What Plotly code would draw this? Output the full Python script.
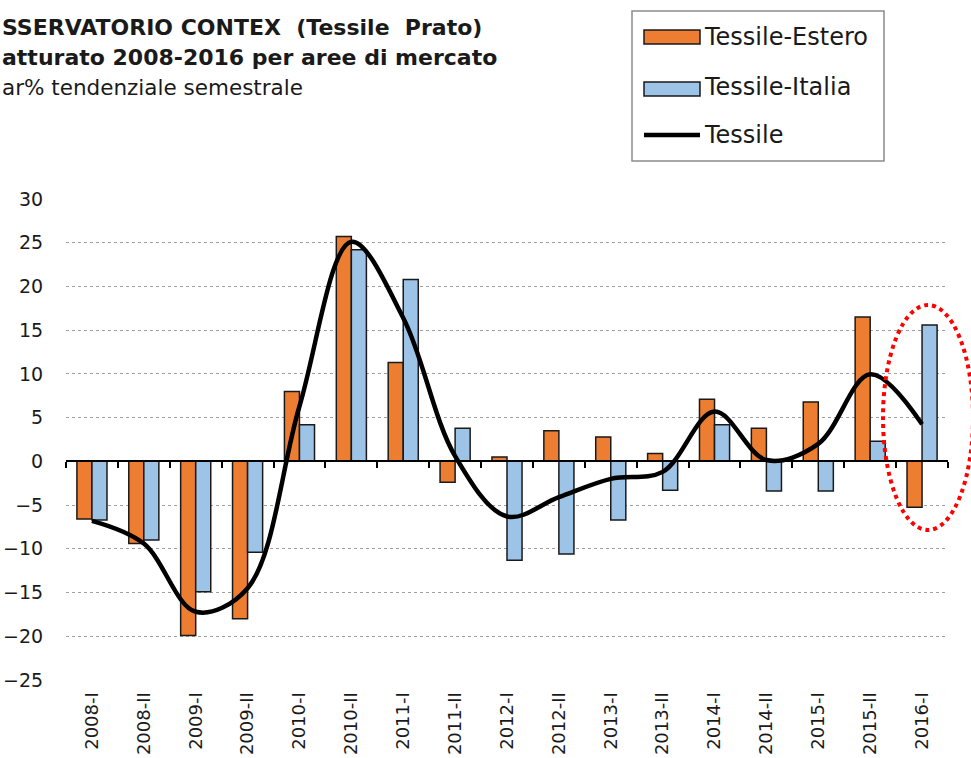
import plotly.graph_objects as go

categories = ["2008-I", "2008-II", "2009-I", "2009-II", "2010-I", "2010-II", "2011-I",
              "2011-II", "2012-I", "2012-II", "2013-I", "2013-II", "2014-I", "2014-II",
              "2015-I", "2015-II", "2016-I"]
estero = [-6.6, -9.4, -19.9, -18.0, 8.0, 25.7, 11.3, -2.4, 0.5, 3.5, 2.8, 0.9, 7.1, 3.8, 6.8, 16.5, -5.25]
italia = [-6.7, -9.0, -14.9, -10.4, 4.2, 24.2, 20.8, 3.8, -11.3, -10.6, -6.7, -3.3, 4.2, -3.4, -3.4, 2.3, 15.6]
tessile = [-6.8, -9.4, -17.2, -14.5, 6.3, 25.1, 16.4, 0.6, -6.3, -4.1, -2.0, -1.2, 5.7, 0.15, 2.0, 9.95, 4.25]

title_lines = ["SSERVATORIO CONTEX \u00a0(Tessile \u00a0Prato)",
               "atturato 2008-2016 per aree di mercato",
               "ar% tendenziale semestrale"]
legend_names = ["Tessile-Estero", "Tessile-Italia", "Tessile"]

ORANGE = "#ED7D31"
BLUE = "#9DC3E6"
FONT = "DejaVu Sans"
W, H = 971, 758
ML, MR, MT, MB = 66, 23, 199, 78
PW, PH = W - ML - MR, H - MT - MB


def px_x(p):
    return (p - ML) / PW


def px_y(p):
    return (H - MB - p) / PH


fig = go.Figure()
fig.add_trace(go.Bar(x=categories, y=estero, name=legend_names[0],
                     marker=dict(color=ORANGE, line=dict(color="#1a1a1a", width=1.5))))
fig.add_trace(go.Bar(x=categories, y=italia, name=legend_names[1],
                     marker=dict(color=BLUE, line=dict(color="#1a1a1a", width=1.5))))
fig.add_trace(go.Scatter(x=categories, y=tessile, name=legend_names[2], mode="lines",
                         xaxis="x2",
                         line=dict(color="black", width=4.5, shape="spline", smoothing=1.0)))

zero_pos = 25 / 55

fig.update_layout(
    width=W, height=H,
    margin=dict(l=ML, r=MR, t=MT, b=MB, autoexpand=False),
    paper_bgcolor="white", plot_bgcolor="white",
    showlegend=False,
    barmode="group", bargap=0.42, bargroupgap=0,
    font=dict(family=FONT, color="#1a1a1a"),
    xaxis=dict(type="category", range=[-0.5, 16.5], showline=False, showgrid=False,
               zeroline=False, tickangle=-90, tickfont=dict(size=18),
               ticks="outside", ticklen=4, tickcolor="rgba(0,0,0,0)", automargin=False),
    xaxis2=dict(type="category", range=[-0.5, 16.5], overlaying="x", anchor="free",
                position=zero_pos, side="bottom", showline=True, linecolor="black",
                linewidth=1.5, ticks="outside", tickson="boundaries", ticklen=6,
                tickwidth=1.5, tickcolor="black", showticklabels=False, showgrid=False,
                zeroline=False),
    yaxis=dict(range=[-25, 30], dtick=5, tick0=0, showgrid=True, gridcolor="#a0a0a0",
               griddash="dot", gridwidth=1, zeroline=False, showline=False,
               ticks="outside", ticklen=18, tickcolor="rgba(0,0,0,0)",
               tickfont=dict(size=19), automargin=False),
)

# Title block
title_specs = [(title_lines[0], 27, 22, True), (title_lines[1], 57, 22, True),
               (title_lines[2], 87, 21.5, False)]
for txt, yc, size, bold in title_specs:
    fig.add_annotation(text=f"<b>{txt}</b>" if bold else txt, xref="paper", yref="paper",
                       x=px_x(0), y=px_y(yc), xanchor="left", yanchor="middle",
                       showarrow=False, font=dict(size=size, color="#1a1a1a", family=FONT))

# Legend box (drawn)
fig.add_shape(type="rect", xref="paper", yref="paper", x0=px_x(632), x1=px_x(884),
              y0=px_y(161), y1=px_y(11), line=dict(color="#8c8c8c", width=1.5),
              fillcolor="white")
fig.add_shape(type="rect", xref="paper", yref="paper", x0=px_x(644), x1=px_x(700),
              y0=px_y(44), y1=px_y(30), line=dict(color="#1a1a1a", width=1.5), fillcolor=ORANGE)
fig.add_shape(type="rect", xref="paper", yref="paper", x0=px_x(644), x1=px_x(700),
              y0=px_y(96), y1=px_y(82), line=dict(color="#1a1a1a", width=1.5), fillcolor=BLUE)
fig.add_shape(type="line", xref="paper", yref="paper", x0=px_x(644), x1=px_x(700),
              y0=px_y(135), y1=px_y(135), line=dict(color="black", width=4.5))
for name, yc in zip(legend_names, [37, 87, 135]):
    fig.add_annotation(text=name, xref="paper", yref="paper", x=px_x(702), y=px_y(yc),
                       xanchor="left", yanchor="middle", showarrow=False,
                       font=dict(size=24, color="#1a1a1a", family=FONT))

# Red dotted highlight ellipse
fig.add_shape(type="circle", xref="paper", yref="paper", x0=px_x(883), x1=px_x(973),
              y0=px_y(530), y1=px_y(305), line=dict(color="red", width=4, dash="dot"))

fig.write_html("out.html", config={"displayModeBar": False},
               post_script="document.body.style.margin='0';document.body.style.overflow='hidden';")
